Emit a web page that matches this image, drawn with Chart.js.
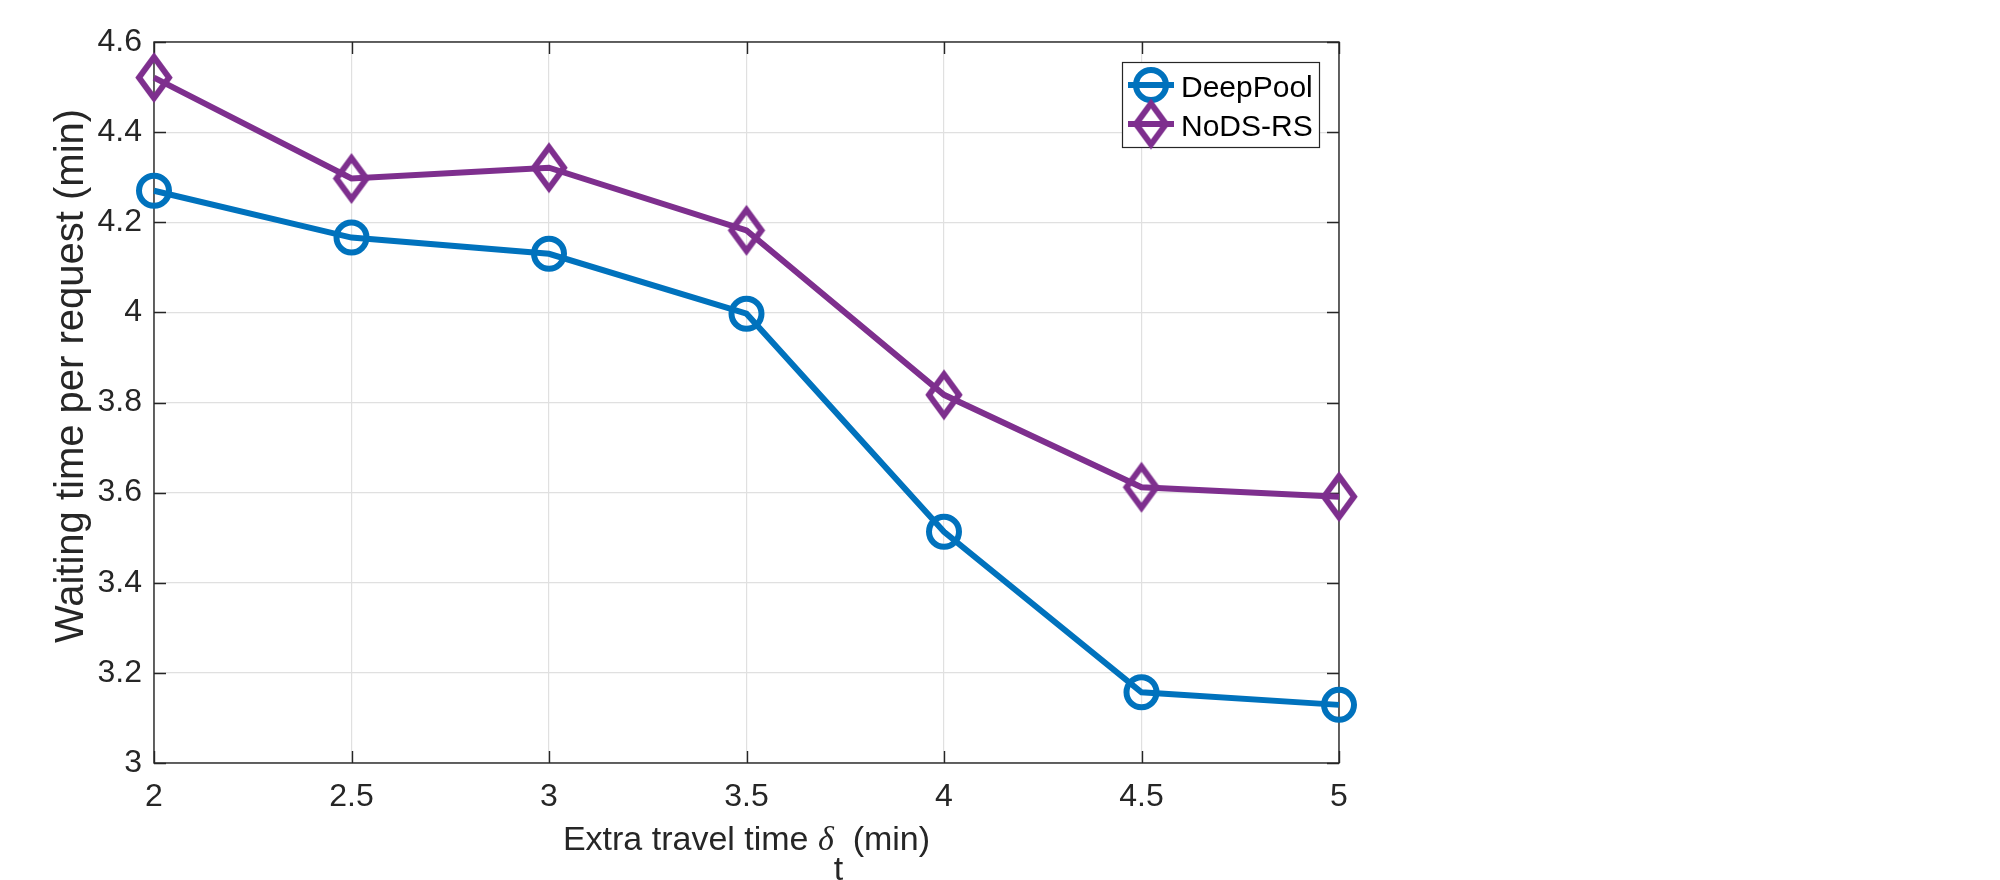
<!DOCTYPE html>
<html>
<head>
<meta charset="utf-8">
<title>Waiting time per request</title>
<script src="https://cdn.jsdelivr.net/npm/chart.js@4.4.1/dist/chart.umd.min.js"></script>
<style>
  html, body { margin: 0; padding: 0; background: #fff; }
  canvas { display: block; }
</style>
</head>
<body>
<canvas id="waitChart" width="2000" height="880"></canvas>
<script>
// values
var extraTime = [2, 2.5, 3, 3.5, 4, 4.5, 5];
var deepPool = [4.27, 4.166, 4.13, 3.997, 3.513, 3.157, 3.129];
var nodsRs = [4.521, 4.297, 4.321, 4.182, 3.817, 3.612, 3.591];
var xTicks = [2, 2.5, 3, 3.5, 4, 4.5, 5];
var yTicks = [3, 3.2, 3.4, 3.6, 3.8, 4, 4.2, 4.4, 4.6];
var seriesNames = ["DeepPool", "NoDS-RS"];

var BLUE = "#0072BD";
var PURPLE = "#7E2F8E";
var AXIS = "#262626";
var SANS = '"Liberation Sans", Arial, Helvetica, sans-serif';
var LW = 6;

// MATLAB style diamond (taller than wide), used as the point image
function makeDiamond(color) {
  var hw = 15, hh = 20.5, lw = LW;
  var c = document.createElement("canvas");
  c.width = Math.ceil(2 * (hw + lw + 2));
  c.height = Math.ceil(2 * (hh + lw + 4));
  var g = c.getContext("2d");
  var cx = c.width / 2, cy = c.height / 2;
  g.strokeStyle = color;
  g.lineWidth = lw;
  g.lineJoin = "miter";
  g.beginPath();
  g.moveTo(cx, cy - hh);
  g.lineTo(cx + hw, cy);
  g.lineTo(cx, cy + hh);
  g.lineTo(cx - hw, cy);
  g.closePath();
  g.stroke();
  return c;
}
var diamond = makeDiamond(PURPLE);

function toPoints(ys) {
  return extraTime.map(function (x, i) { return { x: x, y: ys[i] }; });
}

function tickText(v) {
  return String(Math.round(v * 10) / 10);
}

// box, inward ticks, legend and the two axis titles
var matlabAxes = {
  id: "matlabAxes",
  beforeDatasetsDraw: function (chart) {
    var ctx = chart.ctx, a = chart.chartArea;
    var xs = chart.scales.x, ys = chart.scales.y;
    var tl = 12;
    ctx.save();
    ctx.strokeStyle = AXIS;
    ctx.lineWidth = 1.4;
    ctx.beginPath();
    xTicks.forEach(function (v) {
      var px = Math.round(xs.getPixelForValue(v)) + 0.5;
      ctx.moveTo(px, a.bottom); ctx.lineTo(px, a.bottom - tl);
      ctx.moveTo(px, a.top); ctx.lineTo(px, a.top + tl);
    });
    yTicks.forEach(function (v) {
      var py = Math.round(ys.getPixelForValue(v)) + 0.5;
      ctx.moveTo(a.left, py); ctx.lineTo(a.left + tl, py);
      ctx.moveTo(a.right, py); ctx.lineTo(a.right - tl, py);
    });
    ctx.stroke();
    ctx.strokeRect(a.left, a.top, a.right - a.left, a.bottom - a.top);
    ctx.restore();
  },
  afterDraw: function (chart) {
    var ctx = chart.ctx, a = chart.chartArea;
    ctx.save();

    // legend
    var bx = 1122, by = 62, bw = 197, bh = 85;
    ctx.fillStyle = "#fff";
    ctx.fillRect(bx, by, bw, bh);
    ctx.strokeStyle = AXIS;
    ctx.lineWidth = 1.2;
    ctx.strokeRect(bx + 0.5, by + 0.5, bw, bh);
    var rows = [85, 124];
    chart.data.datasets.forEach(function (ds, i) {
      var cy = rows[i];
      ctx.strokeStyle = ds.borderColor;
      ctx.lineWidth = LW;
      ctx.beginPath();
      ctx.moveTo(1128, cy); ctx.lineTo(1174, cy);
      ctx.stroke();
      if (ds.pointStyle === "circle") {
        ctx.beginPath();
        ctx.arc(1151, cy, 15, 0, Math.PI * 2);
        ctx.stroke();
      } else {
        ctx.drawImage(ds.pointStyle, 1151 - ds.pointStyle.width / 2, cy - ds.pointStyle.height / 2);
      }
      ctx.fillStyle = "#000";
      ctx.font = "30px " + SANS;
      ctx.textAlign = "left";
      ctx.textBaseline = "alphabetic";
      ctx.fillText(ds.label, 1181, cy + 12);
    });

    // x title with delta subscript t
    ctx.fillStyle = AXIS;
    ctx.textBaseline = "alphabetic";
    ctx.textAlign = "left";
    var fSans = "34px " + SANS;
    var fGreek = 'italic 34px "Liberation Serif", "DejaVu Serif", serif';
    var p1 = "Extra travel time ", p2 = "\u03b4", p3 = "t", p4 = " (min)";
    ctx.font = fSans;
    var w1 = ctx.measureText(p1).width;
    var w3 = ctx.measureText(p3).width;
    var w4 = ctx.measureText(p4).width;
    ctx.font = fGreek;
    var w2 = ctx.measureText(p2).width;
    var total = w1 + w2 + w3 + w4;
    var x0 = (a.left + a.right) / 2 - total / 2;
    var base = 850;
    ctx.font = fSans;
    ctx.fillText(p1, x0, base);
    ctx.font = fGreek;
    ctx.fillText(p2, x0 + w1, base);
    ctx.font = fSans;
    ctx.fillText(p3, x0 + w1 + w2, base + 30);
    ctx.fillText(p4, x0 + w1 + w2 + w3, base);

    // y title
    ctx.translate(83, 376);
    ctx.rotate(-Math.PI / 2);
    ctx.textAlign = "center";
    ctx.font = "40px " + SANS;
    ctx.fillText("Waiting time per request (min)", 0, 0);
    ctx.restore();
  }
};

var ctx = document.getElementById("waitChart").getContext("2d");

var waitChart = new Chart(ctx, {
  type: "line",
  data: {
    datasets: [
      {
        label: seriesNames[0],
        data: toPoints(deepPool),
        borderColor: BLUE,
        borderWidth: LW,
        pointStyle: "circle",
        pointRadius: 15,
        pointBorderWidth: LW,
        pointBorderColor: BLUE,
        pointBackgroundColor: "rgba(0,0,0,0)",
        tension: 0,
        clip: false,
      },
      {
        label: seriesNames[1],
        data: toPoints(nodsRs),
        borderColor: PURPLE,
        borderWidth: LW,
        pointStyle: diamond,
        pointRadius: 15,
        pointBackgroundColor: "rgba(0,0,0,0)",
        tension: 0,
        clip: false,
      },
    ],
  },
  options: {
    responsive: false,
    animation: false,
    devicePixelRatio: 1,
    layout: { padding: { top: 42, right: 661, bottom: 0, left: 0 } },
    plugins: {
      legend: { display: false },
      tooltip: { enabled: false },
    },
    scales: {
      x: {
        type: "linear",
        min: 2,
        max: 5,
        afterBuildTicks: function (scale) {
          scale.ticks = xTicks.map(function (v) { return { value: v }; });
        },
        afterFit: function (scale) { scale.height = 117; },
        grid: { color: "#e0e0e0", lineWidth: 1.2, drawTicks: false },
        border: { display: false },
        ticks: {
          padding: 15,
          color: AXIS,
          font: { family: SANS, size: 32 },
          maxRotation: 0,
          callback: tickText,
        },
      },
      y: {
        type: "linear",
        min: 3,
        max: 4.6,
        afterBuildTicks: function (scale) {
          scale.ticks = yTicks.map(function (v) { return { value: v }; });
        },
        afterFit: function (scale) { scale.width = 154; },
        grid: { color: "#e0e0e0", lineWidth: 1.2, drawTicks: false },
        border: { display: false },
        ticks: {
          padding: 12,
          color: AXIS,
          font: { family: SANS, size: 32 },
          callback: tickText,
        },
      },
    },
  },
  plugins: [matlabAxes],
});
</script>
</body>
</html>
